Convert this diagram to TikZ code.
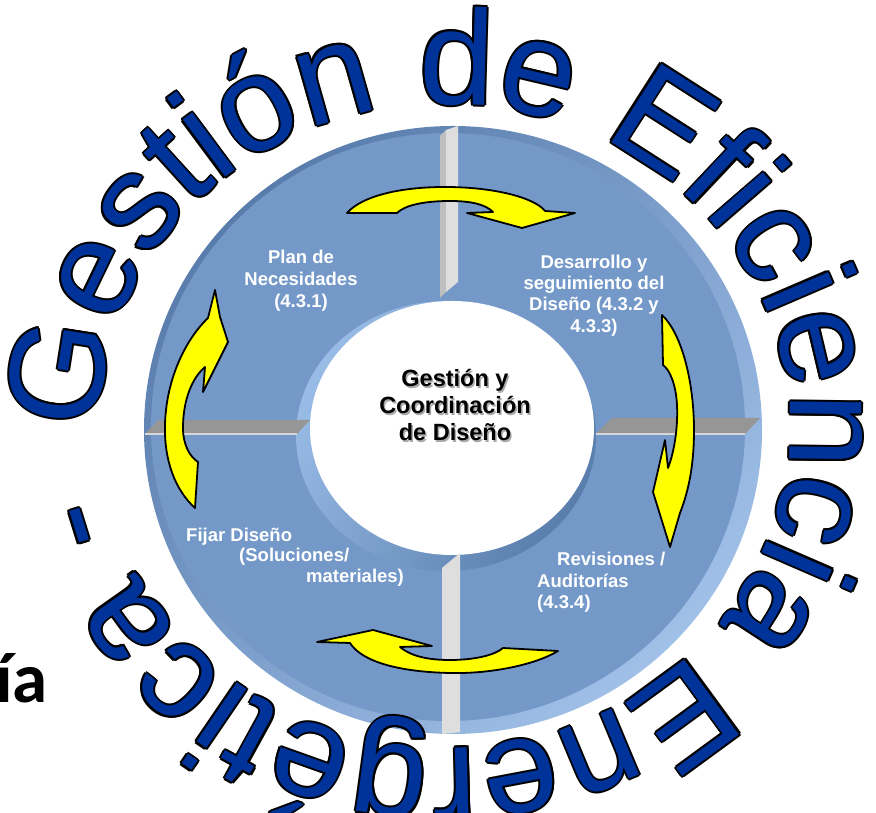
\documentclass[tikz,border=0pt]{standalone}
\usepackage{fontspec}
\setmainfont{Liberation Sans}
\newfontfamily\calib{Carlito}
\usetikzlibrary{decorations.text}
\definecolor{face}{RGB}{116,153,201}
\definecolor{rimlight}{RGB}{160,192,232}
\definecolor{rimdark}{RGB}{88,124,172}
\definecolor{bevlight}{RGB}{152,188,230}
\definecolor{bevdark}{RGB}{90,126,172}
\definecolor{barlight}{RGB}{222,222,222}
\definecolor{barside}{RGB}{190,190,190}
\definecolor{hbar}{RGB}{150,150,150}
\definecolor{hbarhl}{RGB}{215,215,215}
\definecolor{ringblue}{RGB}{0,51,153}
\definecolor{arrowyellow}{RGB}{255,255,0}
\definecolor{shadowgray}{RGB}{170,170,170}
\newcommand\ringtext[1]{%
  \path[decorate,decoration={text along path,text align=left,
    text={|\fontsize{135}{135}\selectfont\color{#1}|Gestión de Eficiencia Energética -}}]
    ([shift={(181:345 and 322)}]445,-426) arc[start angle=181,end angle=-179,x radius=345,y radius=322];}
\begin{document}
\begin{tikzpicture}[x=1pt,y=1pt,
  lab/.style={text=white,font=\bfseries\fontsize{18.5}{21}\selectfont,inner sep=0pt},
  ctr/.style={font=\bfseries\fontsize{23.5}{27}\selectfont,inner sep=0pt,anchor=base},
  curvarrow/.style={fill=arrowyellow,draw=black,line width=1.8pt,line join=round}]
\useasboundingbox (0,0) rectangle (876,813);
\fill[white] (0,0) rectangle (876,813);
\begin{scope}[shift={(0,813)}]
% disc
\shade[top color=rimdark,bottom color=rimlight,shading angle=45] (453,-430) ellipse [x radius=309,y radius=304];
\fill[face] (448,-427) ellipse [x radius=297,y radius=294];
\shade[top color=bevlight,bottom color=bevdark,shading angle=60] (446,-436) ellipse [x radius=150,y radius=135];
\fill[white] (452,-428) ellipse [x radius=142,y radius=127];
% dividers
\fill[barside] (440,-136) -- (446,-130) -- (446,-292) -- (440,-298) -- cycle;
\fill[barlight] (446,-130) -- (458,-126) -- (458,-282) -- (446,-292) -- cycle;
\fill[barlight] (442,-568) -- (460,-553) -- (460,-732) -- (442,-734) -- cycle;
\fill[hbar] (158,-420) -- (310,-420) -- (297,-434) -- (145,-434) -- cycle;
\draw[hbarhl,line width=1.5] (145,-434) -- (297,-434);
\fill[hbar] (612,-418) -- (760,-418) -- (745,-434) -- (596,-434) -- cycle;
\draw[hbarhl,line width=1.5] (596,-434) -- (745,-434);
% labels
\node[lab,anchor=base] (p1) at (301,-264) {Plan de};
\node[lab,anchor=base] (p2) at (301,-286) {Necesidades};
\node[lab,anchor=base] (p3) at (301,-308) {(4.3.1)};
\node[lab,anchor=base] (d1) at (594,-269) {Desarrollo y};
\node[lab,anchor=base] (d2) at (594,-290) {seguimiento del};
\node[lab,anchor=base] (d3) at (594,-311) {Diseño (4.3.2 y};
\node[lab,anchor=base] (d4) at (594,-333) {4.3.3)};
\node[lab,anchor=base west] (f1) at (186,-542) {Fijar Diseño};
\node[lab,anchor=base west] (f2) at (239,-562) {(Soluciones/};
\node[lab,anchor=base west] (f3) at (306,-583) {materiales)};
\node[lab,anchor=base west] (r1) at (557,-566) {Revisiones /};
\node[lab,anchor=base west] (r2) at (537,-588) {Auditorías};
\node[lab,anchor=base west] (r3) at (537,-609) {(4.3.4)};
% centre
\node[ctr,text=shadowgray] (s1) at (456.5,-388.5) {Gestión y};
\node[ctr,text=shadowgray] (s2) at (456.5,-415.5) {Coordinación};
\node[ctr,text=shadowgray] (s3) at (456.5,-442.5) {de Diseño};
\node[ctr] (c1) at (455,-387) {Gestión y};
\node[ctr] (c2) at (455,-414) {Coordinación};
\node[ctr] (c3) at (455,-441) {de Diseño};
% arrows
\draw[curvarrow] (347,-213) .. controls (362,-196) and (400,-187) .. (445,-187)
  .. controls (495,-187) and (535,-198) .. (545,-211) -- (575,-213) -- (522,-228) -- (467,-213) -- (493,-212)
  .. controls (485,-204) and (470,-201) .. (450,-201) .. controls (425,-201) and (405,-205) .. (397,-213) -- cycle;
\draw[curvarrow] (662,-315) .. controls (683,-335) and (694,-385) .. (694,-430)
  .. controls (694,-470) and (687,-495) .. (680,-513) -- (670,-547) -- (653,-492) -- (665,-440) -- (668,-468)
  .. controls (675,-450) and (678,-425) .. (677,-405) .. controls (676,-385) and (670,-370) .. (663,-365) -- cycle;
\draw[curvarrow] (215,-290) -- (220,-317) -- (228,-342) -- (203,-392) -- (205,-367)
  .. controls (192,-378) and (183,-400) .. (183,-428) .. controls (183,-445) and (190,-457) .. (198,-462)
  -- (195,-508) .. controls (175,-490) and (164,-460) .. (165,-425) .. controls (166,-380) and (185,-340) .. (208,-318) -- cycle;
\draw[curvarrow] (558,-651) .. controls (535,-665) and (490,-674) .. (450,-673)
  .. controls (400,-672) and (362,-662) .. (350,-643) -- (317,-642) -- (373,-630) -- (432,-646) -- (400,-647)
  .. controls (412,-657) and (430,-660) .. (450,-660) .. controls (475,-660) and (495,-655) .. (503,-648) -- cycle;
% ring text with outline
\foreach \dx/\dy in {2/0,-2/0,0/2,0/-2,1.4/1.4,1.4/-1.4,-1.4/1.4,-1.4/-1.4}{
  \begin{scope}[shift={(\dx,\dy)}]\ringtext{black}\end{scope}}
\ringtext{ringblue}
% left fragment
\node[font=\calib\bfseries\fontsize{71}{71}\selectfont,anchor=base west,inner sep=0pt] (ia) at (-5,-703) {ía};
\end{scope}
\end{tikzpicture}
\end{document}
